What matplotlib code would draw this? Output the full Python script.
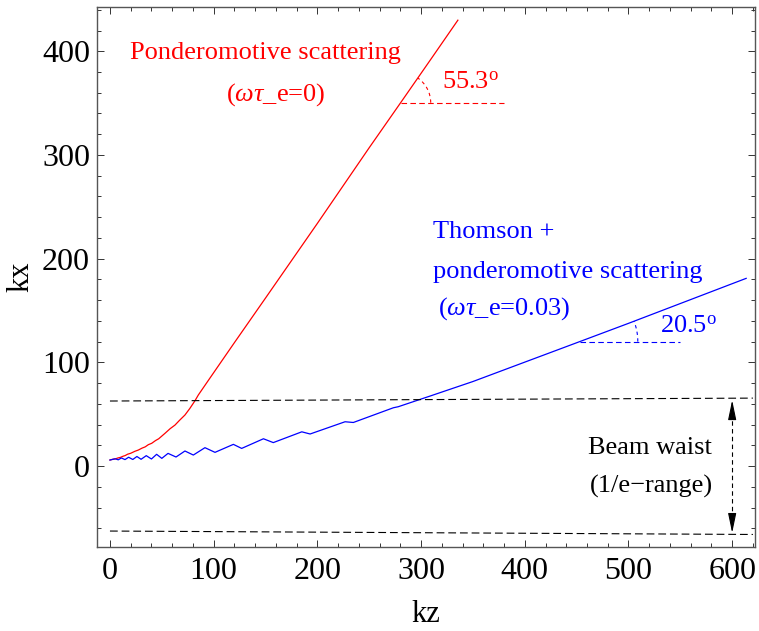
import numpy as np
import matplotlib
matplotlib.use("Agg")
import matplotlib.pyplot as plt
from matplotlib.patches import Arc
from matplotlib.ticker import MultipleLocator

plt.rcParams['font.family'] = ['Liberation Serif', 'DejaVu Serif']
plt.rcParams['mathtext.fontset'] = 'custom'
plt.rcParams['mathtext.rm'] = 'Liberation Serif'
plt.rcParams['mathtext.it'] = 'Liberation Serif:italic'

# ponderomotive only (red)
kz_red = [0, 3, 5, 8, 10, 13, 14.5, 17, 20, 24, 27.3, 31, 34, 37, 40.2, 44, 47, 53, 58, 62.7,
          67, 72.3, 77, 82, 85.2, 95.5, 120, 150, 200, 250, 280.3, 310.6, 335.5]
kx_red = [5.8, 6.6, 6.8, 7.9, 8.3, 9.6, 10.0, 11.4, 12.3, 14.2, 15.4, 17.3, 18.5, 20.6, 21.9, 24.6, 26.3,
          31.5, 36, 39.5, 44, 49.2, 55.5, 63, 68.5, 83.5, 119, 162, 234, 307, 350.4, 394, 430]

# thomson + ponderomotive (blue)
kz_blue = [0, 5, 8, 11, 14.5, 18, 22, 26, 30, 35, 40, 45, 50, 56, 63.7, 72.3, 80.4, 91.6, 101.3,
           119, 127, 148, 157.5, 185, 193, 226.7, 234.7, 273.3, 278, 308.7, 350, 400, 453, 500, 613.5]
kx_blue = [5.8, 7.0, 6.0, 7.8, 6.2, 8.5, 6.3, 9.2, 6.5, 10.0, 6.8, 11.3, 7.4, 12.2, 8.7, 14.5, 10.6,
           17.7, 13.2, 20.9, 17.0, 26.3, 22.6, 33.0, 30.9, 42.7, 42.0, 56.2, 57.2, 67.5, 81.5, 100.2,
           120, 137.6, 181]

# beam waist (1/e range) lines
waist_z = [0, 620]
waist_upper = [62.7, 65.5]
waist_lower = [-62.7, -66.0]
waist_arrow_z = 600

# angle markers: vertex, reach of dashed line, angle
red_vertex = (280.3, 350.4)
red_dash_end = 380
red_angle = 55.3
blue_vertex = (453, 120)
blue_dash_end = 550
blue_angle = 20.5

fig = plt.figure(figsize=(7.59, 6.31), dpi=100)
ax = fig.add_axes([0.1278, 0.1331, 0.8669, 0.8558])

ax.plot(kz_red, kx_red, color='red', lw=0.9)
ax.plot(kz_blue, kx_blue, color='blue', lw=0.9)

dash = (0, (7, 3.5))
ax.plot(waist_z, waist_upper, color='black', lw=0.8, linestyle=dash)
ax.plot(waist_z, waist_lower, color='black', lw=0.8, linestyle=dash)
ax.plot([waist_arrow_z, waist_arrow_z], [waist_upper[0] - 12, waist_lower[0] + 12],
        color='black', lw=0.8, linestyle=(0, (4, 3)))
for tip, tail in [(63.5, 48), (-64.5, -49)]:
    ax.annotate('', xy=(waist_arrow_z, tip), xytext=(waist_arrow_z, tail),
                arrowprops=dict(arrowstyle='-|>,head_length=1.2,head_width=0.25',
                                color='black', lw=0.8, mutation_scale=10,
                                shrinkA=0, shrinkB=0))

# angle markers
ax.plot([red_vertex[0], red_dash_end], [red_vertex[1]] * 2, color='red', lw=0.8, linestyle=(0, (5, 3)))
ax.add_patch(Arc(red_vertex, 58, 58, theta1=0, theta2=red_angle, color='red', lw=0.8, linestyle=(0, (3, 3))))
ax.plot([blue_vertex[0], blue_dash_end], [blue_vertex[1]] * 2, color='blue', lw=0.8, linestyle=(0, (5, 3)))
ax.add_patch(Arc(blue_vertex, 112, 112, theta1=0, theta2=blue_angle, color='blue', lw=0.8, linestyle=(0, (3, 3))))

fs = 19
ax.text(149.5, 398, 'Ponderomotive scattering', color='red', fontsize=fs, ha='center', va='center')
ax.text(160, 358, r'($\omega\tau$_e=0)', color='red', fontsize=fs, ha='center', va='center')
ax.text(320, 369.5, r'55.3$^{\rm o}$', color='red', fontsize=fs, ha='left', va='center')

ax.text(311.3, 226, 'Thomson +', color='blue', fontsize=fs, ha='left', va='center')
ax.text(311.3, 187.4, 'ponderomotive scattering', color='blue', fontsize=fs, ha='left', va='center')
ax.text(316.5, 152, r'($\omega\tau$_e=0.03)', color='blue', fontsize=fs, ha='left', va='center')
ax.text(530.5, 134.5, r'20.5$^{\rm o}$', color='blue', fontsize=fs, ha='left', va='center')

ax.text(521, 17.4, 'Beam waist', color='black', fontsize=fs, ha='center', va='center')
ax.text(522, -20, '(1/e\u2212range)', color='black', fontsize=fs, ha='center', va='center')

ax.set_xlim(-12.5, 622)
ax.set_ylim(-78.1, 442.7)
ax.xaxis.set_major_locator(MultipleLocator(100))
ax.xaxis.set_minor_locator(MultipleLocator(20))
ax.yaxis.set_major_locator(MultipleLocator(100))
ax.yaxis.set_minor_locator(MultipleLocator(20))
ax.tick_params(which='both', direction='in', top=True, right=True, labelsize=23, width=0.7, color='#333333')
ax.tick_params(which='major', length=5)
ax.tick_params(which='minor', length=3)
ax.tick_params(axis='x', which='major', pad=7)
ax.tick_params(axis='y', which='major', pad=5)
for s in ax.spines.values():
    s.set_color('#555555')
    s.set_linewidth(1.0)

ax.set_xlabel('kz', fontsize=22, labelpad=10)
ax.set_ylabel('kx', fontsize=22, labelpad=5)

fig.savefig('out.png', dpi=100)
